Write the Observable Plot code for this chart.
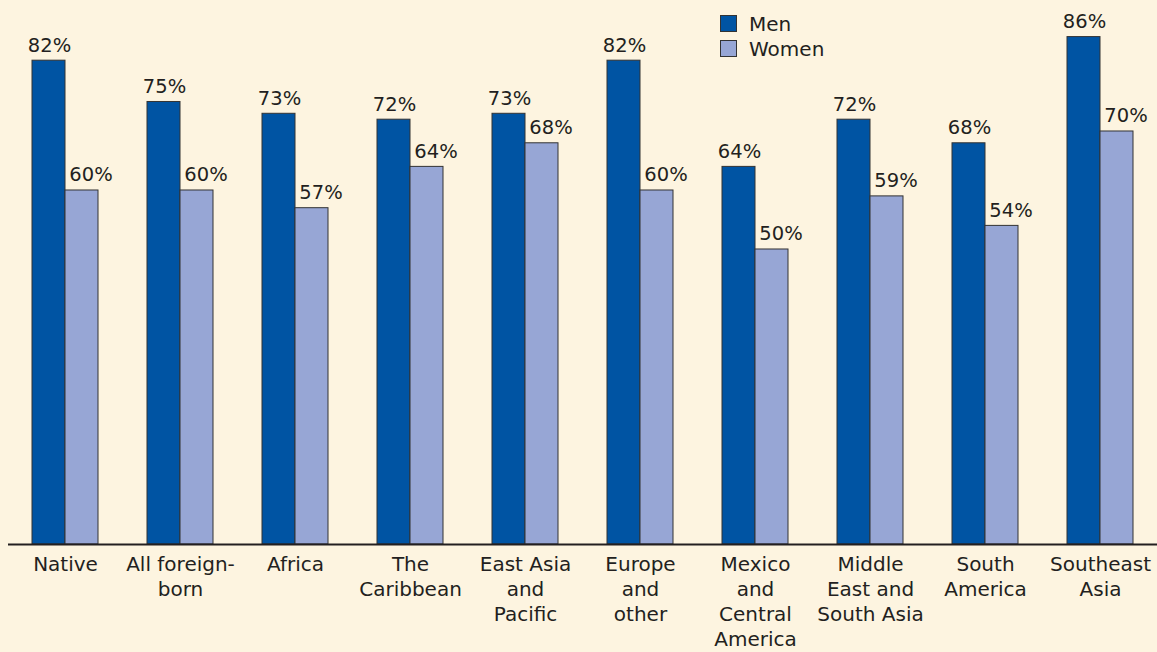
<!DOCTYPE html>
<html>
<head>
<meta charset="utf-8">
<script src="https://cdn.jsdelivr.net/npm/d3@7"></script>
<script src="https://cdn.jsdelivr.net/npm/@observablehq/plot@0.6"></script>
<style>
  html, body { margin: 0; padding: 0; background: #fdf4e0; }
  #wrap { position: relative; width: 1157px; height: 652px; overflow: hidden; font-family: "DejaVu Sans", sans-serif; color: #231f20; }
  .legend { position: absolute; left: 720px; font-size: 20px; line-height: 1; }
  .legend div { display: flex; align-items: center; height: 25px; }
  .sw { display: inline-block; width: 15px; height: 15px; border: 1px solid #333; margin-right: 12px; }
</style>
</head>
<body>
<div id="wrap"></div>
<script>
const categories = ["Native", "All foreign-born", "Africa", "The Caribbean", "East Asia and Pacific", "Europe and other", "Mexico and Central America", "Middle East and South Asia", "South America", "Southeast Asia"];
const tickLabels = ["Native", "All foreign-\nborn", "Africa", "The\nCaribbean", "East Asia\nand\nPacific", "Europe\nand\nother", "Mexico\nand\nCentral\nAmerica", "Middle\nEast and\nSouth Asia", "South\nAmerica", "Southeast\nAsia"];
const men = [82, 75, 73, 72, 73, 82, 64, 72, 68, 86];
const women = [60, 60, 57, 64, 68, 60, 50, 59, 54, 70];
const seriesNames = ["Men", "Women"];
const seriesColors = ["#0054a3", "#97a6d5"];

const rows = categories.map((c, i) => ({cat: c, men: men[i], women: women[i]}));
const labelOf = new Map(categories.map((c, i) => [c, tickLabels[i]]));

const chart = Plot.plot({
  width: 1157,
  height: 652,
  marginTop: 0,
  marginBottom: 108,
  marginLeft: 8,
  marginRight: 0,
  style: {background: "#fdf4e0", fontFamily: "DejaVu Sans, sans-serif", color: "#231f20", overflow: "visible"},
  x: {domain: categories, paddingInner: 0.427, paddingOuter: 0.2, axis: null, label: null},
  y: {domain: [0, 92.2], axis: null},
  marks: [
    Plot.barY(rows, {x: "cat", y: "men", fill: seriesColors[0], stroke: "#333", strokeWidth: 1, insetRight: 33}),
    Plot.barY(rows, {x: "cat", y: "women", fill: seriesColors[1], stroke: "#333", strokeWidth: 1, insetLeft: 33}),
    Plot.text(rows, {x: "cat", y: "men", text: d => d.men + "%", dx: -16, dy: -9, lineAnchor: "bottom", fontSize: 19.5, fill: "#231f20"}),
    Plot.text(rows, {x: "cat", y: "women", text: d => d.women + "%", dx: 25.5, dy: -9, lineAnchor: "bottom", fontSize: 19.5, fill: "#231f20"}),
    Plot.ruleY([0], {stroke: "#231f20", strokeWidth: 2}),
    Plot.axisX({tickSize: 0, tickPadding: 9, fontSize: 20, lineHeight: 1.25, label: null, tickFormat: d => labelOf.get(d), fill: "#231f20"})
  ]
});

const wrap = document.getElementById("wrap");
wrap.appendChild(chart);

const legend = document.createElement("div");
legend.className = "legend";
legend.style.top = "11px";
seriesNames.forEach((n, i) => {
  const row = document.createElement("div");
  const sw = document.createElement("span");
  sw.className = "sw";
  sw.style.background = seriesColors[i];
  row.appendChild(sw);
  row.appendChild(document.createTextNode(n));
  legend.appendChild(row);
});
wrap.appendChild(legend);
</script>
</body>
</html>
